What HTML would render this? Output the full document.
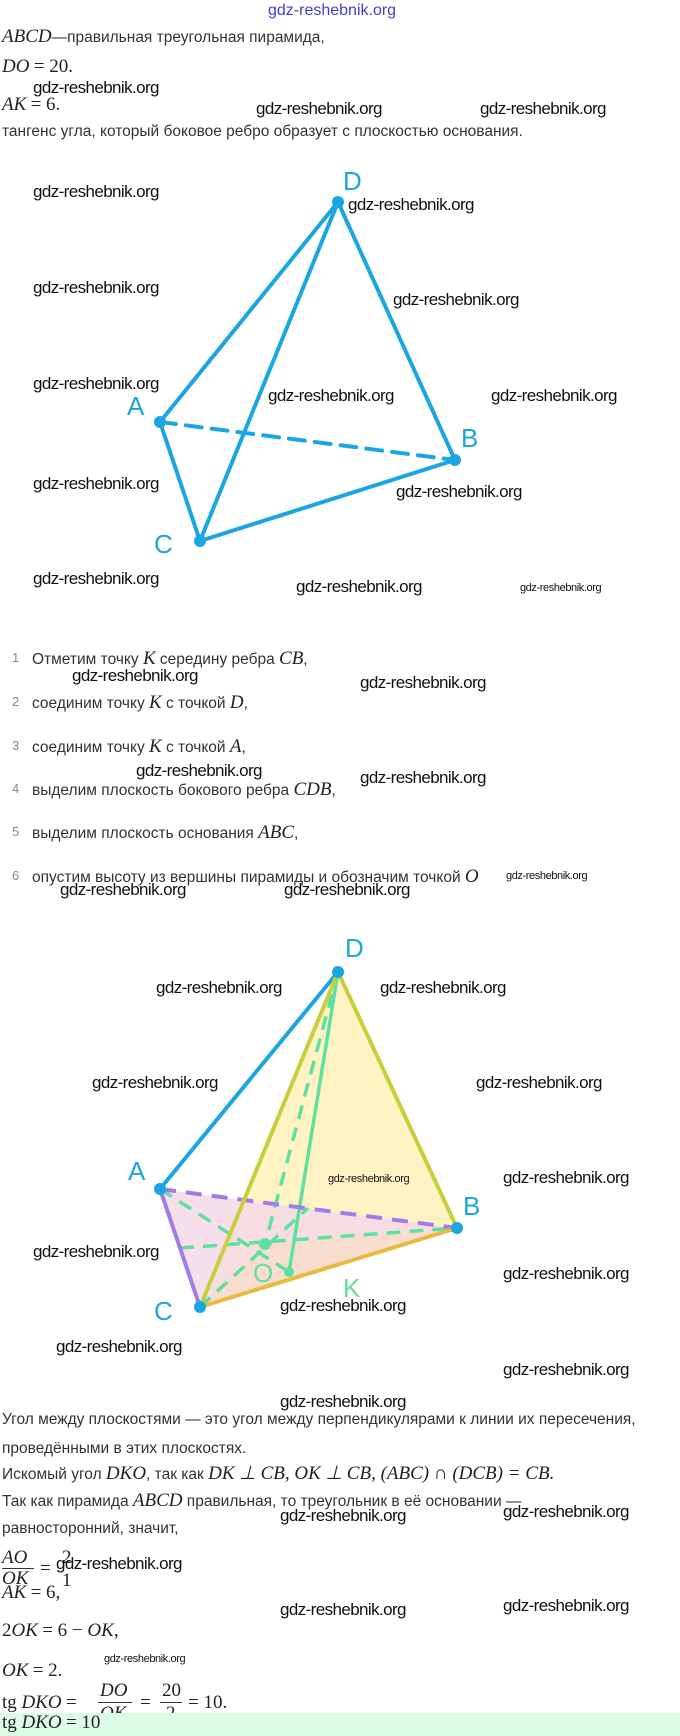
<!DOCTYPE html>
<html><head><meta charset="utf-8"><style>
body{margin:0;width:680px;height:1736px;background:#fff;position:relative;overflow:hidden;font-family:"Liberation Sans",sans-serif;color:#222}
.t{position:absolute;font-size:15.5px;white-space:nowrap;color:#333}
.m{font-family:"Liberation Serif",serif;font-style:italic;font-size:19px;color:#222}
.w{position:absolute;font-size:17px;letter-spacing:-0.6px;color:#111;white-space:nowrap;font-family:"Liberation Sans",sans-serif}
.ws{position:absolute;font-size:11px;letter-spacing:-0.4px;color:#111;white-space:nowrap}
.n{position:absolute;font-size:13px;color:#888;left:12px}
</style></head><body>
<div style="position:absolute;left:268px;top:2px;font-size:16px;color:#4040d0">gdz-reshebnik.org</div>
<div class="t" style="left:2px;top:26px"><span class="m">ABCD</span>—правильная треугольная пирамида,</div>
<div class="t" style="left:2px;top:56px"><span class="m">DO</span> <span class="m" style="font-style:normal">= 20.</span></div>
<div class="t" style="left:2px;top:94px"><span class="m">AK</span> <span class="m" style="font-style:normal">= 6.</span></div>
<div class="t" style="left:2px;top:123px">тангенс угла, который боковое ребро образует с плоскостью основания.</div>

<svg style="position:absolute;left:0;top:0" width="680" height="1736">
<g stroke="#1ba6e2" stroke-width="4" fill="none" stroke-linecap="round">
<line x1="160" y1="422" x2="338" y2="202"/><line x1="338" y1="202" x2="455" y2="460"/>
<line x1="338" y1="202" x2="200" y2="541"/><line x1="160" y1="422" x2="200" y2="541"/>
<line x1="200" y1="541" x2="455" y2="460"/>
<line x1="160" y1="422" x2="455" y2="460" stroke-dasharray="16,10"/>
</g>
<g fill="#1ba6e2"><circle cx="338" cy="202" r="6"/><circle cx="160" cy="422" r="6"/><circle cx="455" cy="460" r="6"/><circle cx="200" cy="541" r="6"/></g>
<g fill="#1ba6e2" font-size="26" font-family="Liberation Sans"><text x="343" y="190">D</text><text x="127" y="415">A</text><text x="461" y="447">B</text><text x="154" y="553">C</text></g>

<polygon points="338,972 200,1307 457,1228" fill="#fff3c4"/>
<polygon points="160,1189 200,1307 457,1228" fill="#f6d8e8" opacity="0.85"/>
<polygon points="200,1307 457,1228 265,1244" fill="#f7dcc8" opacity="0.8"/>
<g stroke="#5de0a0" stroke-width="3.5" fill="none" stroke-dasharray="14,9">
<line x1="338" y1="972" x2="265" y2="1244"/><line x1="160" y1="1189" x2="289" y2="1272"/>
<line x1="180" y1="1248" x2="457" y2="1228"/><line x1="200" y1="1307" x2="308" y2="1208"/>
</g>
<line x1="338" y1="972" x2="289" y2="1272" stroke="#5de0a0" stroke-width="3.5"/>
<line x1="160" y1="1189" x2="457" y2="1228" stroke="#a07ce8" stroke-width="4" stroke-dasharray="16,10"/>
<line x1="160" y1="1189" x2="338" y2="972" stroke="#1ba6e2" stroke-width="4"/>
<line x1="160" y1="1189" x2="200" y2="1307" stroke="#a07ce8" stroke-width="4"/>
<line x1="338" y1="972" x2="200" y2="1307" stroke="#c6cf3c" stroke-width="4"/>
<line x1="338" y1="972" x2="457" y2="1228" stroke="#c6cf3c" stroke-width="4"/>
<line x1="200" y1="1307" x2="457" y2="1228" stroke="#e8bb40" stroke-width="4"/>
<g fill="#1ba6e2"><circle cx="338" cy="972" r="6"/><circle cx="160" cy="1189" r="6"/><circle cx="457" cy="1228" r="6"/><circle cx="200" cy="1307" r="6"/></g>
<circle cx="289" cy="1272" r="5" fill="#5de0a0"/><circle cx="265" cy="1244" r="6" fill="#5de0a0"/>
<g font-size="26" font-family="Liberation Sans"><text fill="#1ba6e2" x="345" y="957">D</text><text fill="#1ba6e2" x="128" y="1180">A</text><text fill="#1ba6e2" x="463" y="1215">B</text><text fill="#1ba6e2" x="154" y="1320">C</text><text fill="#5de0a0" x="253" y="1282">O</text><text fill="#5de0a0" x="343" y="1297">K</text></g>
</svg>

<div class="n" style="top:650px">1</div><div class="t" style="left:32px;top:648px">Отметим точку <span class="m">K</span> середину ребра <span class="m">CB</span>,</div>
<div class="n" style="top:694px">2</div><div class="t" style="left:32px;top:692px">соединим точку <span class="m">K</span> с точкой <span class="m">D</span>,</div>
<div class="n" style="top:738px">3</div><div class="t" style="left:32px;top:736px">соединим точку <span class="m">K</span> с точкой <span class="m">A</span>,</div>
<div class="n" style="top:781px">4</div><div class="t" style="left:32px;top:779px">выделим плоскость бокового ребра <span class="m">CDB</span>,</div>
<div class="n" style="top:824px">5</div><div class="t" style="left:32px;top:822px">выделим плоскость основания <span class="m">ABC</span>,</div>
<div class="n" style="top:868px">6</div><div class="t" style="left:32px;top:866px">опустим высоту из вершины пирамиды и обозначим точкой <span class="m">O</span></div>

<div class="t" style="left:2px;top:1411px">Угол между плоскостями — это угол между перпендикулярами к линии их пересечения,</div>
<div class="t" style="left:2px;top:1440px">проведёнными в этих плоскостях.</div>
<div class="t" style="left:2px;top:1462px">Искомый угол <span class="m">DKO</span>, так как <span class="m">DK ⊥ CB, OK ⊥ CB, (ABC) ∩ (DCB) = CB.</span></div>
<div class="t" style="left:2px;top:1490px">Так как пирамида <span class="m">ABCD</span> правильная, то треугольник в её основании —</div>
<div class="t" style="left:2px;top:1520px">равносторонний, значит,</div>
<div class="t" style="left:2px;top:1547px"><span class="m">AO</span></div><div style="position:absolute;left:2px;top:1568px;width:32px;border-top:1px solid #333"></div>
<div class="t" style="left:2px;top:1568px"><span class="m">OK</span></div><div class="t" style="left:40px;top:1558px"><span class="m" style="font-style:normal">= </span></div>
<div class="t" style="left:62px;top:1547px"><span class="m" style="font-style:normal">2</span></div><div class="t" style="left:62px;top:1570px"><span class="m" style="font-style:normal">1</span></div>
<div class="t" style="left:2px;top:1582px"><span class="m">AK</span> <span class="m" style="font-style:normal">= 6,</span></div>
<div class="t" style="left:2px;top:1620px"><span class="m" style="font-style:normal">2</span><span class="m">OK</span> <span class="m" style="font-style:normal">= 6 − </span><span class="m">OK</span><span class="m" style="font-style:normal">,</span></div>
<div class="t" style="left:2px;top:1660px"><span class="m">OK</span> <span class="m" style="font-style:normal">= 2.</span></div>
<div class="t" style="left:2px;top:1692px"><span class="m" style="font-style:normal">tg </span><span class="m">DKO</span> <span class="m" style="font-style:normal">=</span></div>
<div class="t" style="left:100px;top:1680px"><span class="m">DO</span></div><div style="position:absolute;left:98px;top:1702px;width:34px;border-top:1px solid #333"></div>
<div class="t" style="left:100px;top:1703px"><span class="m">OK</span></div>
<div class="t" style="left:140px;top:1692px"><span class="m" style="font-style:normal">=</span></div>
<div class="t" style="left:162px;top:1680px"><span class="m" style="font-style:normal">20</span></div><div style="position:absolute;left:160px;top:1702px;width:22px;border-top:1px solid #333"></div>
<div class="t" style="left:166px;top:1703px"><span class="m" style="font-style:normal">2</span></div>
<div class="t" style="left:188px;top:1692px"><span class="m" style="font-style:normal">= 10.</span></div>
<div style="position:absolute;left:0;top:1713px;width:680px;height:23px;background:#dcfbe8"></div>
<div class="t" style="left:2px;top:1712px"><span class="m" style="font-style:normal">tg </span><span class="m">DKO</span> <span class="m" style="font-style:normal">= 10</span></div>

<div class="w" style="left:33px;top:78px">gdz-reshebnik.org</div>
<div class="w" style="left:256px;top:99px">gdz-reshebnik.org</div>
<div class="w" style="left:480px;top:99px">gdz-reshebnik.org</div>
<div class="w" style="left:33px;top:182px">gdz-reshebnik.org</div>
<div class="w" style="left:348px;top:195px">gdz-reshebnik.org</div>
<div class="w" style="left:33px;top:278px">gdz-reshebnik.org</div>
<div class="w" style="left:393px;top:290px">gdz-reshebnik.org</div>
<div class="w" style="left:33px;top:374px">gdz-reshebnik.org</div>
<div class="w" style="left:268px;top:386px">gdz-reshebnik.org</div>
<div class="w" style="left:491px;top:386px">gdz-reshebnik.org</div>
<div class="w" style="left:33px;top:474px">gdz-reshebnik.org</div>
<div class="w" style="left:396px;top:482px">gdz-reshebnik.org</div>
<div class="w" style="left:33px;top:569px">gdz-reshebnik.org</div>
<div class="w" style="left:296px;top:577px">gdz-reshebnik.org</div>
<div class="ws" style="left:520px;top:582px">gdz-reshebnik.org</div>
<div class="w" style="left:72px;top:666px">gdz-reshebnik.org</div>
<div class="w" style="left:360px;top:673px">gdz-reshebnik.org</div>
<div class="w" style="left:136px;top:761px">gdz-reshebnik.org</div>
<div class="w" style="left:360px;top:768px">gdz-reshebnik.org</div>
<div class="ws" style="left:506px;top:870px">gdz-reshebnik.org</div>
<div class="w" style="left:60px;top:880px">gdz-reshebnik.org</div>
<div class="w" style="left:284px;top:880px">gdz-reshebnik.org</div>
<div class="w" style="left:156px;top:978px">gdz-reshebnik.org</div>
<div class="w" style="left:380px;top:978px">gdz-reshebnik.org</div>
<div class="w" style="left:92px;top:1073px">gdz-reshebnik.org</div>
<div class="w" style="left:476px;top:1073px">gdz-reshebnik.org</div>
<div class="ws" style="left:328px;top:1173px">gdz-reshebnik.org</div>
<div class="w" style="left:503px;top:1168px">gdz-reshebnik.org</div>
<div class="w" style="left:33px;top:1242px">gdz-reshebnik.org</div>
<div class="w" style="left:503px;top:1264px">gdz-reshebnik.org</div>
<div class="w" style="left:280px;top:1296px">gdz-reshebnik.org</div>
<div class="w" style="left:56px;top:1337px">gdz-reshebnik.org</div>
<div class="w" style="left:503px;top:1360px">gdz-reshebnik.org</div>
<div class="w" style="left:280px;top:1392px">gdz-reshebnik.org</div>
<div class="w" style="left:280px;top:1506px">gdz-reshebnik.org</div>
<div class="w" style="left:503px;top:1502px">gdz-reshebnik.org</div>
<div class="w" style="left:56px;top:1554px">gdz-reshebnik.org</div>
<div class="w" style="left:280px;top:1600px">gdz-reshebnik.org</div>
<div class="w" style="left:503px;top:1596px">gdz-reshebnik.org</div>
<div class="ws" style="left:104px;top:1653px">gdz-reshebnik.org</div>
</body></html>
